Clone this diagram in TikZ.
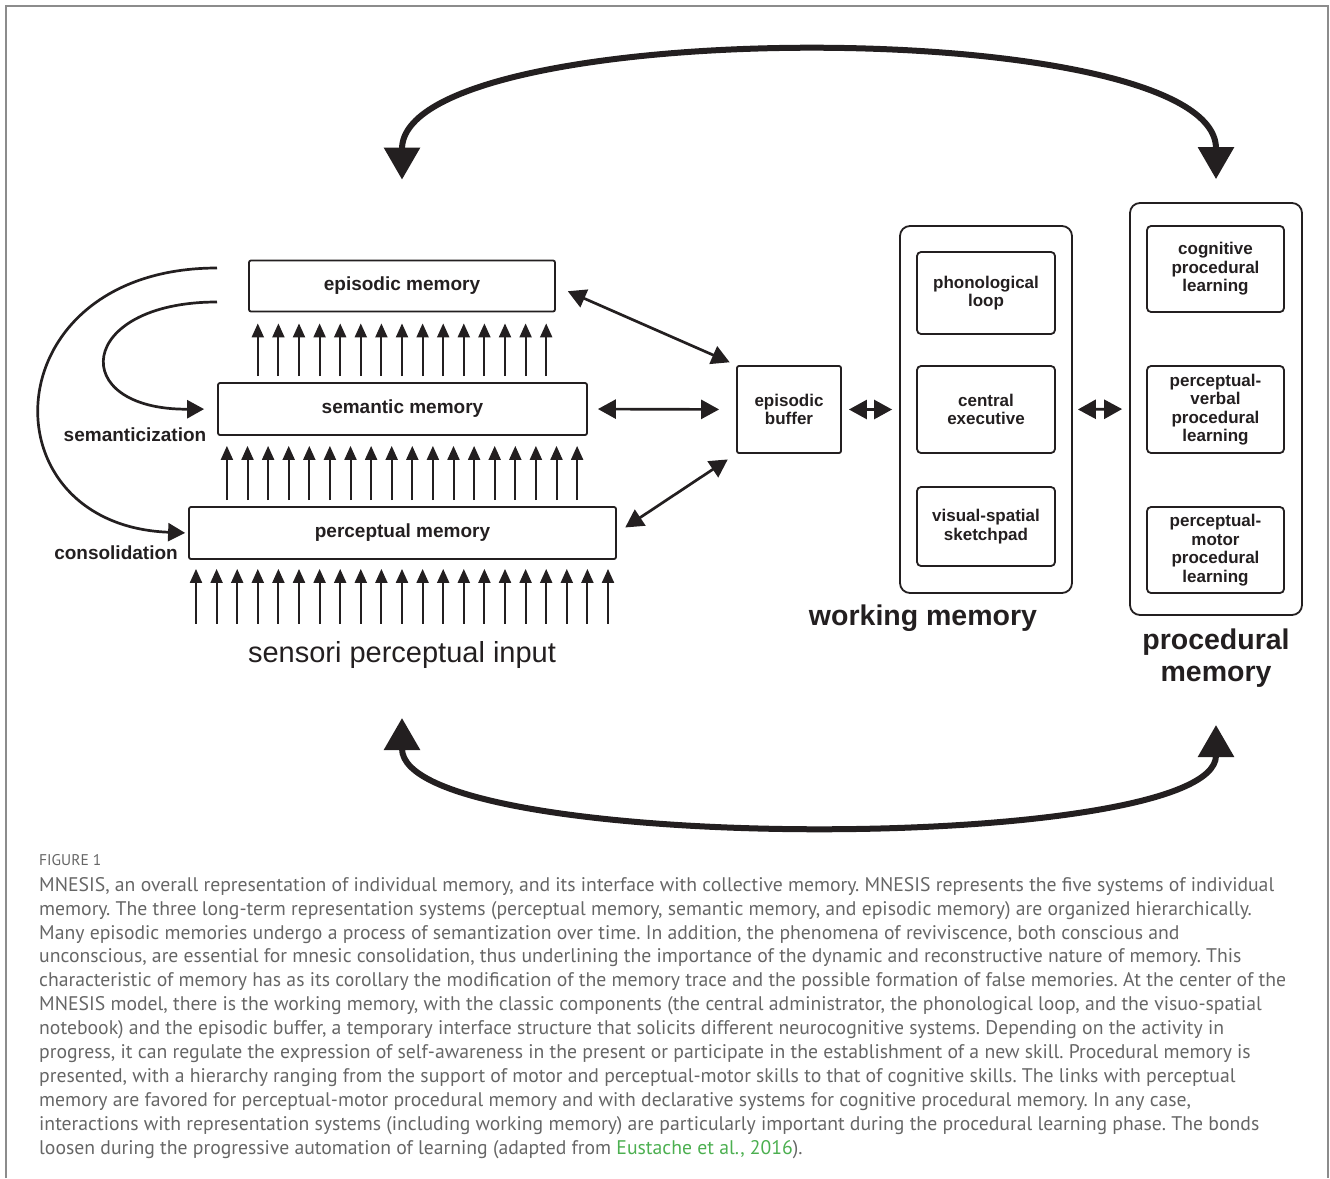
\documentclass[tikz,border=0pt]{standalone}
\usepackage{fontspec}
\setmainfont{Liberation Sans}
\newfontfamily\capfont{PT Sans}
\usepackage{xcolor}
\usepackage{tikz}
\usetikzlibrary{positioning, arrows.meta, calc}
\definecolor{inkBlack}{HTML}{231F20}
\definecolor{capGray}{HTML}{666666}
\definecolor{frameGray}{HTML}{8C8C8C}
\definecolor{linkGreen}{HTML}{4CAF50}
\frenchspacing

\begin{document}
\begin{tikzpicture}[x=1pt, y=-1pt, inkBlack,
    every node/.style={text=inkBlack},
    membox/.style={draw, line width=1.8pt, rounded corners=2pt, inner sep=0pt,
      font=\fontsize{19}{22}\selectfont\bfseries},
    subbox/.style={draw, line width=1.8pt, rounded corners=4pt, inner sep=0pt,
      align=center, minimum width=138pt, font=\fontsize{17}{18.5}\selectfont\bfseries},
    outbox/.style={draw, line width=1.8pt, rounded corners=10pt, inner sep=0pt, minimum width=172pt},
    sidelabel/.style={font=\fontsize{19}{22}\selectfont\bfseries},
    biglabel/.style={font=\fontsize{28.5}{32}\selectfont\bfseries, align=center},
    stackarr/.style={-{Triangle[width=12pt,length=14pt]}, line width=2pt},
    dblarr/.style={{Triangle[width=19pt,length=18pt]}-{Triangle[width=19pt,length=18pt]}, line width=2.7pt},
    curvarr/.style={-{Triangle[width=18pt,length=17pt]}, line width=2.7pt},
    bigarr/.style={{Triangle[width=35pt,length=32pt]}-{Triangle[width=35pt,length=32pt]}, line width=6pt}]
  \useasboundingbox (0,0) rectangle (1330,1178);
  % Frame (open at the bottom)
  \draw[frameGray, line width=1.5pt] (6,1178) -- (6,6) -- (1328,6) -- (1328,1178);

  % Long-term representation systems
  \node[membox, minimum width=306pt, minimum height=51pt] (episodic) at (402,286) {episodic memory};
  \node[membox, minimum width=369pt, minimum height=52pt] (semantic) at (402.5,409) {semantic memory};
  \node[membox, minimum width=427pt, minimum height=52pt] (perceptual) at (402.5,533) {perceptual memory};
  \node[font=\fontsize{29}{34}\selectfont] (input) at (402,655) {sensori perceptual input};

  % Arrow stacks
  \foreach \i [evaluate=\i as \x using 402+20.6*(\i-7)] in {0,...,14}
    \draw[stackarr] ($(\x,0 |- semantic.north)+(0,-6)$) -- ($(\x,0 |- episodic.south)+(0,11)$);
  \foreach \i [evaluate=\i as \x using 402+20.6*(\i-8.5)] in {0,...,17}
    \draw[stackarr] ($(\x,0 |- perceptual.north)+(0,-6)$) -- ($(\x,0 |- semantic.south)+(0,10)$);
  \foreach \i [evaluate=\i as \x using 402+20.6*(\i-10)] in {0,...,20}
    \draw[stackarr] ($(\x,0 |- perceptual.south)+(0,64)$) -- ($(\x,0 |- perceptual.south)+(0,9)$);

  % Semanticization and consolidation
  \coordinate (consFrom) at (217,268);
  \coordinate (semFrom) at (217,302);
  \draw[curvarr, shorten >=3pt] (consFrom) .. controls (-8,268) and (-18,525) .. (perceptual.west);
  \draw[curvarr, shorten >=13pt] (semFrom) .. controls (76,302) and (66,410) .. (semantic.west);
  \node[sidelabel] (semlabel) at (135,435) {semanticization};
  \node[sidelabel] (conslabel) at (116,553) {consolidation};

  % Episodic buffer
  \node[membox, minimum width=104pt, minimum height=87pt, align=center,
    font=\fontsize{17}{18.5}\selectfont\bfseries] (buffer) at (789,409.5) {episodic\\buffer};
  \draw[dblarr, shorten <=13pt, shorten >=7pt] (episodic.east) -- (buffer.north west);
  \draw[dblarr, shorten <=10pt, shorten >=17pt] (semantic.east) -- (buffer.west);
  \draw[dblarr, shorten <=10pt, shorten >=10pt] (perceptual.east) -- (buffer.south west);

  % Working memory
  \node[outbox, minimum height=367pt] (wm) at (986,409.5) {};
  \node[subbox, minimum height=82pt] (phono) at (986,293) {phonological\\loop};
  \node[subbox, minimum height=87pt] (central) at (986,409.5) {central\\executive};
  \node[subbox, minimum height=79pt] (sketch) at (986,526.5) {visual-spatial\\sketchpad};
  \node[biglabel] (wmlabel) at (923,618) {working memory};

  % Procedural memory
  \node[outbox, minimum height=412pt] (proc) at (1216,409) {};
  \node[subbox, minimum width=137pt, minimum height=86pt] (cogn) at (1215.5,269) {cognitive\\procedural\\learning};
  \node[subbox, minimum width=137pt, minimum height=87pt] (pverbal) at (1215.5,409.5) {perceptual-\\verbal\\procedural\\learning};
  \node[subbox, minimum width=137pt, minimum height=86pt] (pmotor) at (1215.5,550) {perceptual-\\motor\\procedural\\learning};
  \node[biglabel, below=9pt of proc] (proclabel) {procedural\\memory};

  \draw[dblarr, shorten <=7pt, shorten >=7pt] (buffer.east) -- (wm.west);
  \draw[dblarr, shorten <=5pt, shorten >=7pt] (wm.east) -- (proc.west);

  % Interface arcs
  \coordinate (epiTop) at ([yshift=80pt]episodic.north);
  \coordinate (procTop) at ([yshift=23pt]proc.north);
  \draw[bigarr] (epiTop) .. controls (402,15) and (1216,13) .. (procTop);
  \coordinate (inBot) at (402,718);
  \coordinate (procBot) at (1216,725);
  \draw[bigarr] (inBot) .. controls (402,855) and (1216,855) .. (procBot);

  % Caption
  \node[anchor=west, inner sep=0pt, text=capGray, font=\capfont\fontsize{15.5}{17}\selectfont] (figno) at (39,860) {FIGURE 1};
  \node[anchor=north west, inner sep=0pt, align=left, text=capGray,
    font=\capfont\fontsize{19.7}{23.9}\selectfont] (caption) at (39,877) {%
    MNESIS, an overall representation of individual memory, and its interface with collective memory. MNESIS represents the five systems of individual\\
    memory. The three long-term representation systems (perceptual memory, semantic memory, and episodic memory) are organized hierarchically.\\
    Many episodic memories undergo a process of semantization over time. In addition, the phenomena of reviviscence, both conscious and\\
    unconscious, are essential for mnesic consolidation, thus underlining the importance of the dynamic and reconstructive nature of memory. This\\
    characteristic of memory has as its corollary the modification of the memory trace and the possible formation of false memories. At the center of the\\
    MNESIS model, there is the working memory, with the classic components (the central administrator, the phonological loop, and the visuo-spatial\\
    notebook) and the episodic buffer, a temporary interface structure that solicits different neurocognitive systems. Depending on the activity in\\
    progress, it can regulate the expression of self-awareness in the present or participate in the establishment of a new skill. Procedural memory is\\
    presented, with a hierarchy ranging from the support of motor and perceptual-motor skills to that of cognitive skills. The links with perceptual\\
    memory are favored for perceptual-motor procedural memory and with declarative systems for cognitive procedural memory. In any case,\\
    interactions with representation systems (including working memory) are particularly important during the procedural learning phase. The bonds\\
    loosen during the progressive automation of learning (adapted from \textcolor{linkGreen}{Eustache et al., 2016}).};
\end{tikzpicture}
\end{document}
